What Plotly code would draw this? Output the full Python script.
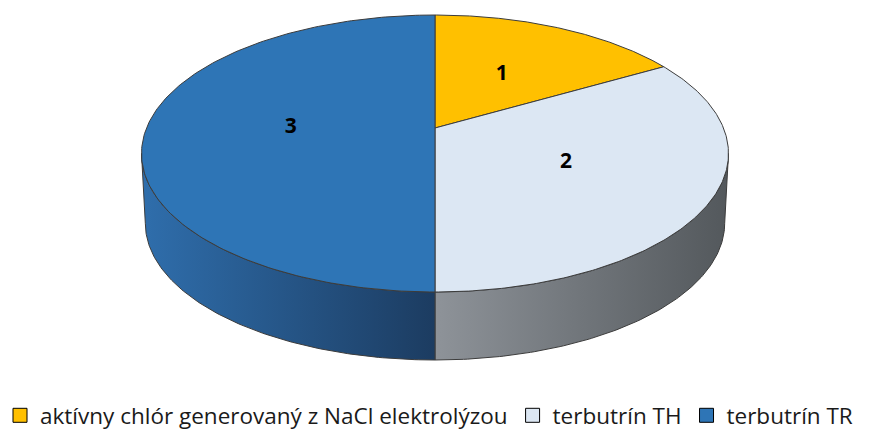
import numpy as np
import plotly.graph_objects as go

# Data
categories = ["aktívny chlór generovaný z NaCl elektrolýzou", "terbutrín TH", "terbutrín TR"]
values = [1, 2, 3]
label_text = [str(v) for v in values]

# Styles
top_colors = ["#FFC000", "#DCE7F3", "#2E75B6"]
side_scales = [
    [[0, "#B08500"], [1, "#7A5C00"]],
    [[0, "#8E9399"], [1, "#53585C"]],
    [[0, "#2F6EAC"], [1, "#1C3C61"]],
]
edge_color = "#3C3C3C"

W, H = 871, 432

# 3D pie geometry (screen pixels): perspective-projected disc
CX = 435.0
APEX_Y = 128.0      # projected centre of the disc
NEAR_Y = 292.0      # front edge of top face
FAR_Y = 15.0        # back edge of top face
HALF_W = 293.5      # widest half-width of the top face
DEPTH_SCALE = 0.987
NEAR_BOTTOM_Y = 360.0

# y' = (b*v + d) / (1 + c*v), v = -1 (far) .. 1 (near)
d = APEX_Y
c = (2 * d - NEAR_Y - FAR_Y) / (NEAR_Y - FAR_Y)
b = NEAR_Y * (1 + c) - d
kmax = 1.0 / np.sqrt(1 - c * c)
a = HALF_W / kmax
ell_cy = (b * (-c) + d) / (1 - c * c)
depth = NEAR_BOTTOM_Y - (ell_cy + DEPTH_SCALE * (NEAR_Y - ell_cy))


def top_pt(phi_deg, r=1.0):
    p = np.radians(phi_deg)
    u = r * np.sin(p)
    v = -r * np.cos(p)
    den = 1 + c * v
    return CX + a * u / den, (b * v + d) / den


def bottom_pt(phi_deg):
    x, y = top_pt(phi_deg)
    return CX + DEPTH_SCALE * (x - CX), ell_cy + DEPTH_SCALE * (y - ell_cy) + depth


total = float(sum(values))
bounds = np.concatenate([[0.0], np.cumsum(values) / total * 360.0])
phi_r = np.degrees(np.arccos(c))
phi_l = 360.0 - phi_r

fig = go.Figure()

# Side walls (front half only)
for i in range(len(values)):
    lo = max(bounds[i], phi_r)
    hi = min(bounds[i + 1], phi_l)
    if hi <= lo:
        continue
    ph = np.linspace(lo, hi, 120)
    tx, ty = top_pt(ph)
    bx, by = bottom_pt(ph[::-1])
    xs = np.concatenate([tx, bx, tx[:1]])
    ys = np.concatenate([ty, by, ty[:1]])
    fig.add_trace(go.Scatter(
        x=xs, y=ys, mode="lines", fill="toself",
        fillgradient=dict(type="horizontal", colorscale=side_scales[i],
                          start=float(xs.min()), stop=float(xs.max())),
        line=dict(color=edge_color, width=1),
        hoverinfo="skip", showlegend=False,
    ))

# Top face slices
for i in range(len(values)):
    ph = np.linspace(bounds[i], bounds[i + 1], 200)
    ex, ey = top_pt(ph)
    ax_, ay_ = top_pt(0.0, 0.0)
    xs = np.concatenate([[ax_], ex, [ax_]])
    ys = np.concatenate([[ay_], ey, [ay_]])
    fig.add_trace(go.Scatter(
        x=xs, y=ys, mode="lines", fill="toself", fillcolor=top_colors[i],
        line=dict(color=edge_color, width=1),
        hoverinfo="skip", showlegend=False,
    ))

# Data labels at half radius along each slice's mid angle
mids = (bounds[:-1] + bounds[1:]) / 2
lx, ly = top_pt(mids, 0.5)
fig.add_trace(go.Scatter(
    x=lx, y=ly, mode="text", text=label_text,
    textfont=dict(family="Open Sans", size=21, color="#000000", weight="bold"),
    hoverinfo="skip", showlegend=False,
))

# Legend entries
for name, col in zip(categories, top_colors):
    fig.add_trace(go.Scatter(
        x=[None], y=[None], mode="markers", name=name,
        marker=dict(symbol="square", size=14, color=col,
                    line=dict(color="#000000", width=1)),
    ))

fig.update_layout(
    width=W, height=H,
    margin=dict(l=0, r=0, t=0, b=0, autoexpand=False),
    paper_bgcolor="white", plot_bgcolor="white",
    xaxis=dict(range=[0, W], visible=False, fixedrange=True),
    yaxis=dict(range=[H, 0], visible=False, fixedrange=True),
    showlegend=True,
    legend=dict(
        orientation="h", x=0.0, xanchor="left", y=-0.012, yanchor="bottom",
        font=dict(family="Open Sans", size=22.5, color="#1A1A1A"),
        itemsizing="trace", tracegroupgap=0, bgcolor="rgba(0,0,0,0)",
    ),
)

fig.write_html("out.html")
